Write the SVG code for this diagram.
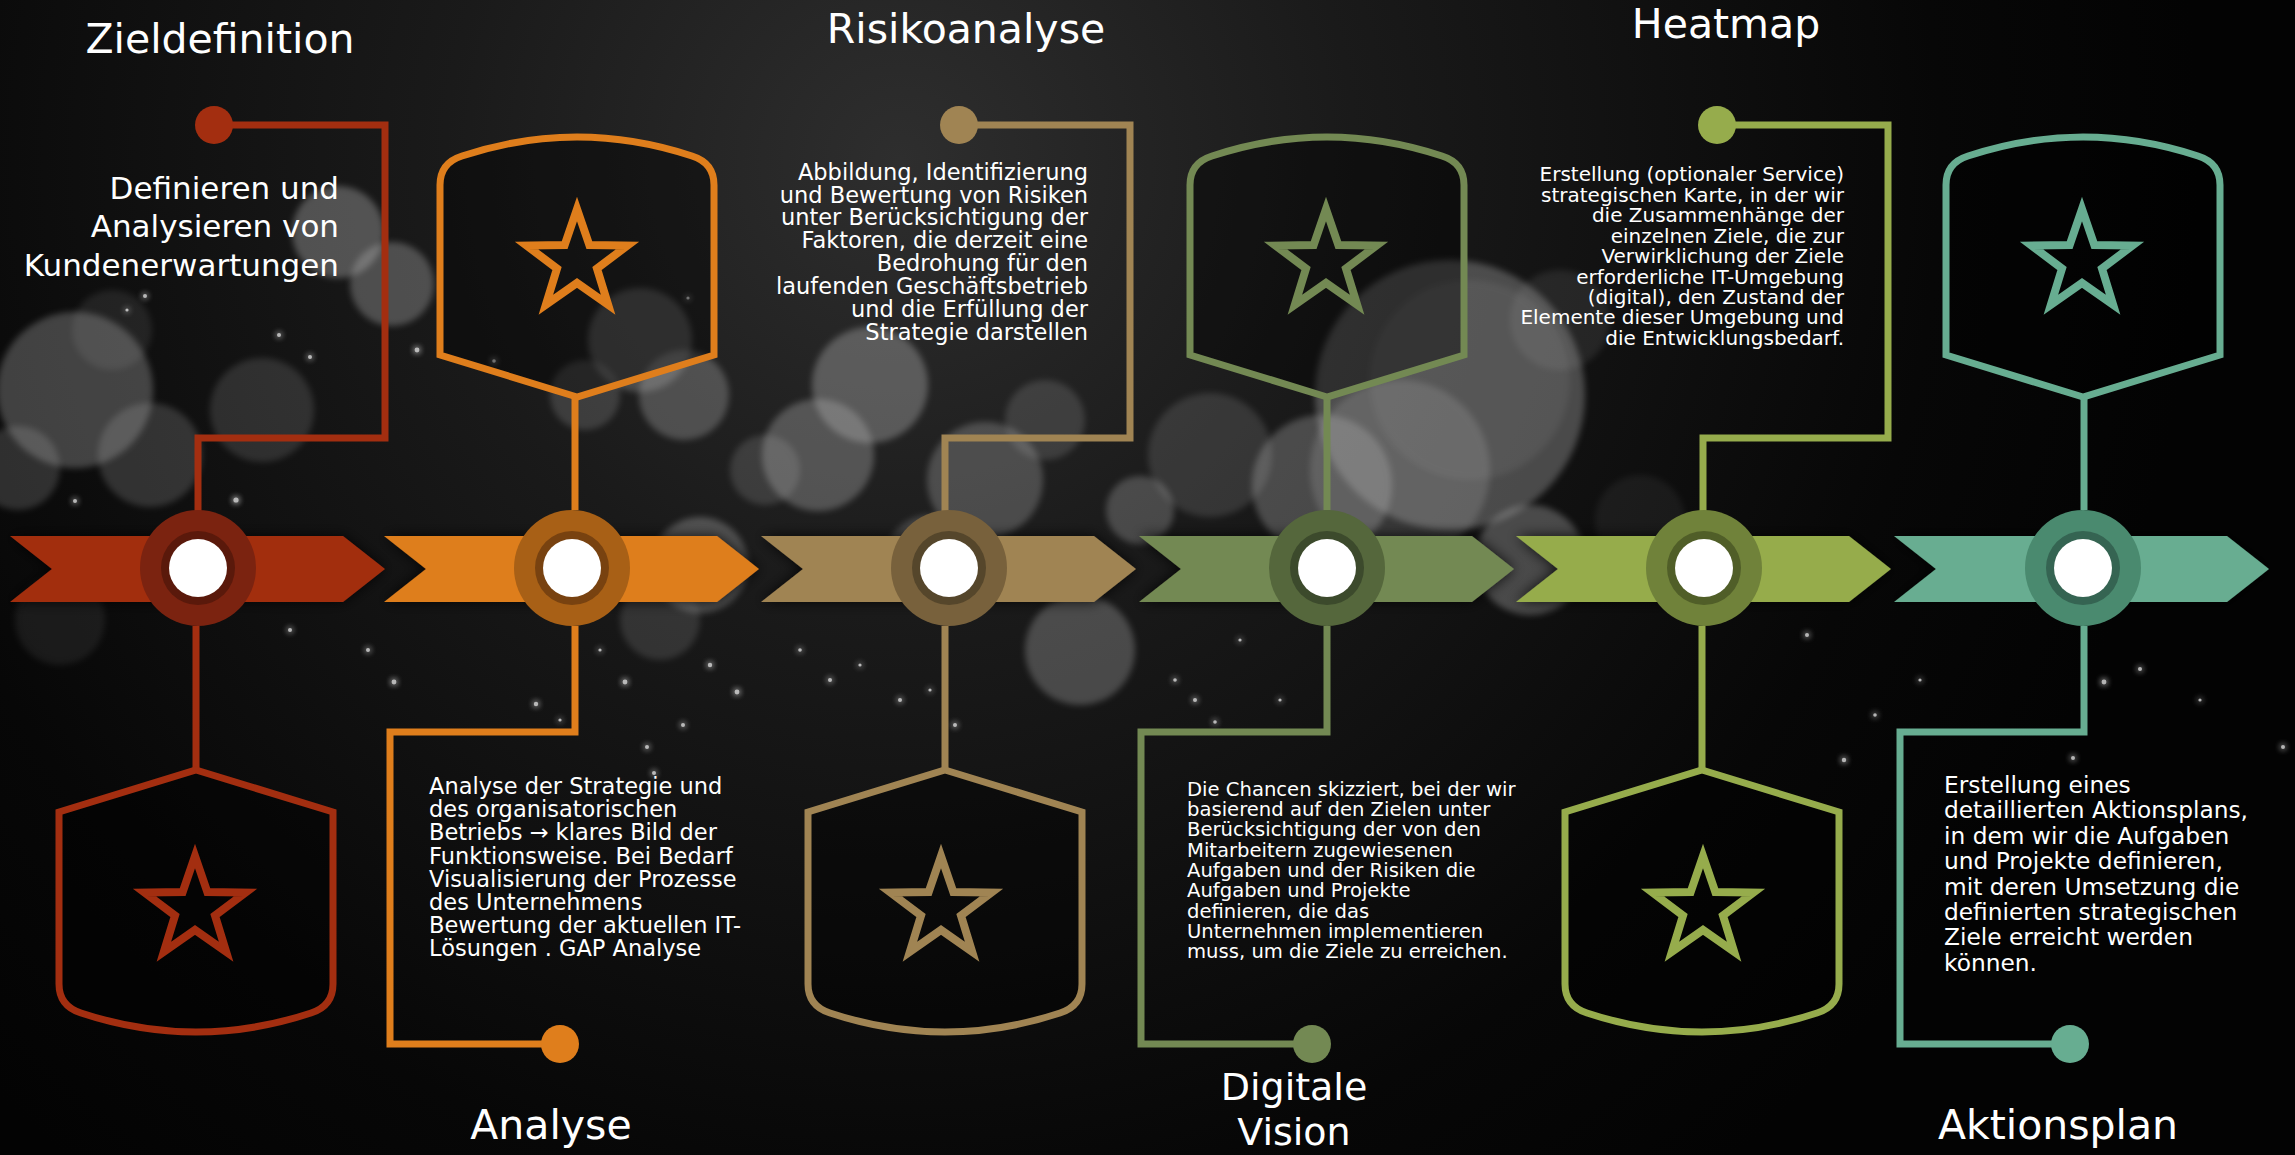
<svg xmlns="http://www.w3.org/2000/svg" xmlns:xlink="http://www.w3.org/1999/xlink" width="2295" height="1155" viewBox="0 0 2295 1155">
<defs>
<radialGradient id="bg" cx="900" cy="160" r="1300" gradientUnits="userSpaceOnUse">
<stop offset="0" stop-color="#2e2e2e"/>
<stop offset="0.35" stop-color="#1a1a1a"/>
<stop offset="0.8" stop-color="#070707"/>
<stop offset="1" stop-color="#030303"/>
</radialGradient>
<filter id="soft" x="-20%" y="-20%" width="140%" height="140%"><feGaussianBlur stdDeviation="3"/></filter>
<filter id="glow" x="-300%" y="-300%" width="700%" height="700%"><feGaussianBlur in="SourceGraphic" stdDeviation="3" result="b"/><feMerge><feMergeNode in="b"/><feMergeNode in="b"/><feMergeNode in="SourceGraphic"/></feMerge></filter>
<filter id="shadow" x="-10%" y="-40%" width="120%" height="180%"><feGaussianBlur in="SourceAlpha" stdDeviation="7" result="s"/><feComponentTransfer in="s" result="s2"><feFuncA type="linear" slope="0.8"/></feComponentTransfer><feMerge><feMergeNode in="s2"/><feMergeNode in="SourceGraphic"/></feMerge></filter>
<path id="star" d="M0,-53 L12.34,-16.99 L50.41,-16.38 L19.97,6.49 L31.15,42.88 L0,21 L-31.15,42.88 L-19.97,6.49 L-50.41,-16.38 L-12.34,-16.99 Z"/>
<path id="arrow" d="M0,536 L333,536 L375,569 L333,602 L0,602 L42,569 Z"/>
</defs>
<style>
.bk{fill:#b4b4b4;filter:url(#soft)}
.sp{fill:#ffffff;opacity:0.7;filter:url(#glow)}
.ln{fill:none;stroke-width:7;stroke-linejoin:miter;stroke-linecap:butt}
.sh{fill:#000000;fill-opacity:0.4;stroke-width:7;stroke-linejoin:miter}
.st{fill:none;stroke-width:8;stroke-linejoin:miter;stroke-miterlimit:10}
.white{fill:#ffffff}
text{font-family:'DejaVu Sans','Liberation Sans',sans-serif;fill:#ffffff}
.title{font-size:41px;text-anchor:middle}
.end{text-anchor:end}
</style>

<g id="background">
<rect x="0" y="0" width="2295" height="1155" fill="url(#bg)"/>
<g id="bokeh">
<circle class="bk" cx="75" cy="390" r="78" opacity="0.32"/>
<circle class="bk" cx="18" cy="468" r="42" opacity="0.22"/>
<circle class="bk" cx="150" cy="455" r="52" opacity="0.22"/>
<circle class="bk" cx="262" cy="410" r="52" opacity="0.18"/>
<circle class="bk" cx="112" cy="330" r="40" opacity="0.12"/>
<circle class="bk" cx="338" cy="232" r="46" opacity="0.38"/>
<circle class="bk" cx="392" cy="284" r="42" opacity="0.35"/>
<circle class="bk" cx="60" cy="620" r="45" opacity="0.1"/>
<circle class="bk" cx="640" cy="340" r="52" opacity="0.3"/>
<circle class="bk" cx="684" cy="395" r="45" opacity="0.32"/>
<circle class="bk" cx="585" cy="395" r="35" opacity="0.22"/>
<circle class="bk" cx="700" cy="565" r="48" opacity="0.35"/>
<circle class="bk" cx="660" cy="620" r="40" opacity="0.18"/>
<circle class="bk" cx="765" cy="470" r="35" opacity="0.2"/>
<circle class="bk" cx="870" cy="385" r="58" opacity="0.38"/>
<circle class="bk" cx="818" cy="455" r="56" opacity="0.35"/>
<circle class="bk" cx="985" cy="480" r="58" opacity="0.3"/>
<circle class="bk" cx="930" cy="560" r="45" opacity="0.25"/>
<circle class="bk" cx="1080" cy="650" r="55" opacity="0.32"/>
<circle class="bk" cx="1140" cy="510" r="34" opacity="0.3"/>
<circle class="bk" cx="1045" cy="420" r="40" opacity="0.2"/>
<circle class="bk" cx="1210" cy="455" r="62" opacity="0.18"/>
<circle class="bk" cx="1322" cy="485" r="70" opacity="0.32"/>
<circle class="bk" cx="1450" cy="395" r="135" opacity="0.35"/>
<circle class="bk" cx="1470" cy="380" r="100" opacity="0.1"/>
<circle class="bk" cx="1400" cy="470" r="90" opacity="0.22"/>
<circle class="bk" cx="1530" cy="560" r="55" opacity="0.35"/>
<circle class="bk" cx="1560" cy="320" r="50" opacity="0.12"/>
<circle class="bk" cx="1640" cy="520" r="45" opacity="0.08"/>
</g>
<g id="sparkles">
<circle class="sp" cx="145" cy="296" r="2"/><circle class="sp" cx="127" cy="310" r="1.6"/><circle class="sp" cx="279" cy="335" r="2"/>
<circle class="sp" cx="310" cy="357" r="2"/><circle class="sp" cx="417" cy="350" r="2.4"/><circle class="sp" cx="494" cy="361" r="1.8"/>
<circle class="sp" cx="236" cy="500" r="2.6"/><circle class="sp" cx="75" cy="501" r="2"/><circle class="sp" cx="688" cy="298" r="1.6"/>
<circle class="sp" cx="290" cy="630" r="2"/><circle class="sp" cx="368" cy="650" r="2"/><circle class="sp" cx="394" cy="682" r="2.4"/>
<circle class="sp" cx="536" cy="704" r="2.2"/><circle class="sp" cx="625" cy="682" r="2.4"/><circle class="sp" cx="710" cy="665" r="2.2"/>
<circle class="sp" cx="737" cy="692" r="2.4"/><circle class="sp" cx="683" cy="725" r="2"/><circle class="sp" cx="647" cy="747" r="2"/>
<circle class="sp" cx="654" cy="773" r="2"/><circle class="sp" cx="600" cy="650" r="1.6"/><circle class="sp" cx="560" cy="720" r="1.6"/>
<circle class="sp" cx="800" cy="650" r="1.8"/><circle class="sp" cx="830" cy="680" r="2"/><circle class="sp" cx="860" cy="665" r="1.6"/>
<circle class="sp" cx="900" cy="700" r="2"/><circle class="sp" cx="930" cy="690" r="1.6"/><circle class="sp" cx="955" cy="725" r="2"/>
<circle class="sp" cx="1175" cy="680" r="1.8"/><circle class="sp" cx="1195" cy="700" r="2"/><circle class="sp" cx="1215" cy="722" r="1.8"/>
<circle class="sp" cx="1240" cy="640" r="1.6"/><circle class="sp" cx="1280" cy="700" r="1.6"/>
<circle class="sp" cx="1807" cy="635" r="2"/><circle class="sp" cx="1844" cy="760" r="2.2"/><circle class="sp" cx="1875" cy="715" r="1.8"/>
<circle class="sp" cx="2104" cy="682" r="2.4"/><circle class="sp" cx="2140" cy="669" r="2"/><circle class="sp" cx="2073" cy="758" r="2"/>
<circle class="sp" cx="2283" cy="747" r="2"/><circle class="sp" cx="2200" cy="700" r="1.6"/><circle class="sp" cx="1920" cy="680" r="1.6"/>
</g>
</g>

<g id="connectors">
<path class="ln" stroke="#A32E10" d="M198,511 V438 H385 V125 H214"/>
<circle cx="214" cy="125" r="19" fill="#A32E10"/>
<path class="ln" stroke="#A32E10" d="M196,626 V770"/>
<path class="ln" stroke="#DF7E1C" d="M575,510 V397"/>
<path class="ln" stroke="#DF7E1C" d="M575,626 V732 H390 V1044 H560"/>
<circle cx="560" cy="1044" r="19" fill="#DF7E1C"/>
<path class="ln" stroke="#A08453" d="M945,511 V438 H1130 V125 H959"/>
<circle cx="959" cy="125" r="19" fill="#A08453"/>
<path class="ln" stroke="#A08453" d="M945,626 V770"/>
<path class="ln" stroke="#738953" d="M1327,510 V397"/>
<path class="ln" stroke="#738953" d="M1327,626 V732 H1141 V1044 H1312"/>
<circle cx="1312" cy="1044" r="19" fill="#738953"/>
<path class="ln" stroke="#96AC4C" d="M1703,511 V438 H1888 V125 H1717"/>
<circle cx="1717" cy="125" r="19" fill="#96AC4C"/>
<path class="ln" stroke="#96AC4C" d="M1702,626 V770"/>
<path class="ln" stroke="#67AD91" d="M2084,510 V397"/>
<path class="ln" stroke="#67AD91" d="M2084,626 V732 H1900 V1044 H2070"/>
<circle cx="2070" cy="1044" r="19" fill="#67AD91"/>
</g>

<g id="node-zieldefinition">
<use href="#arrow" x="10" fill="#A22E10" filter="url(#shadow)"/>
<circle cx="198" cy="568" r="58" fill="#7B2310"/>
<circle cx="198" cy="568" r="37" fill="#5A190B"/>
<circle class="white" cx="198" cy="568" r="29"/>
<path class="sh" stroke="#A32E10" d="M196,770 L333,812 L333,984 Q333,1006 311,1013 Q196,1051 81,1013 Q59,1006 59,984 L59,812 Z"/>
<use href="#star" x="195" y="909" class="st" stroke="#A32E10"/>
<text class="title" x="220" y="53">Zieldefinition</text>
<text class="end" font-size="31" x="339" y="199"><tspan x="339" y="199">Definieren und</tspan><tspan x="339" y="237">Analysieren von</tspan><tspan x="339" y="276">Kundenerwartungen</tspan></text>
</g>

<g id="node-analyse">
<use href="#arrow" x="384" fill="#DE7E1C" filter="url(#shadow)"/>
<circle cx="572" cy="568" r="58" fill="#A86016"/>
<circle cx="572" cy="568" r="37" fill="#784210"/>
<circle class="white" cx="572" cy="568" r="29"/>
<path class="sh" stroke="#DF7E1C" d="M577,397 L440,355 L440,185 Q440,163 462,156 Q577,118 692,156 Q714,163 714,185 L714,355 Z"/>
<use href="#star" x="577" y="262" class="st" stroke="#DF7E1C"/>
<text class="title" x="551" y="1139">Analyse</text>
<text font-size="22.5" x="429" y="794.3"><tspan x="429" y="794.3">Analyse der Strategie und</tspan><tspan x="429" y="817.4">des organisatorischen</tspan><tspan x="429" y="840.4">Betriebs → klares Bild der</tspan><tspan x="429" y="863.5">Funktionsweise. Bei Bedarf</tspan><tspan x="429" y="886.5">Visualisierung der Prozesse</tspan><tspan x="429" y="909.6">des Unternehmens</tspan><tspan x="429" y="932.7">Bewertung der aktuellen IT-</tspan><tspan x="429" y="955.7">Lösungen . GAP Analyse</tspan></text>
</g>

<g id="node-risikoanalyse">
<use href="#arrow" x="761" fill="#A08453" filter="url(#shadow)"/>
<circle cx="949" cy="568" r="58" fill="#78613C"/>
<circle cx="949" cy="568" r="37" fill="#55462B"/>
<circle class="white" cx="949" cy="568" r="29"/>
<path class="sh" stroke="#A08453" d="M945,770 L1082,812 L1082,984 Q1082,1006 1060,1013 Q945,1051 830,1013 Q808,1006 808,984 L808,812 Z"/>
<use href="#star" x="941" y="909" class="st" stroke="#A08453"/>
<text class="title" x="966" y="43">Risikoanalyse</text>
<text class="end" font-size="22.5" x="1088" y="179.5"><tspan x="1088" y="179.5">Abbildung, Identifizierung</tspan><tspan x="1088" y="202.5">und Bewertung von Risiken</tspan><tspan x="1088" y="225.4">unter Berücksichtigung der</tspan><tspan x="1088" y="248.4">Faktoren, die derzeit eine</tspan><tspan x="1088" y="271.3">Bedrohung für den</tspan><tspan x="1088" y="294.3">laufenden Geschäftsbetrieb</tspan><tspan x="1088" y="317.2">und die Erfüllung der</tspan><tspan x="1088" y="340.2">Strategie darstellen</tspan></text>
</g>

<g id="node-digitale-vision">
<use href="#arrow" x="1139" fill="#738953" filter="url(#shadow)"/>
<circle cx="1327" cy="568" r="58" fill="#55673C"/>
<circle cx="1327" cy="568" r="37" fill="#3C4A2C"/>
<circle class="white" cx="1327" cy="568" r="29"/>
<path class="sh" stroke="#738953" d="M1327,397 L1190,355 L1190,185 Q1190,163 1212,156 Q1327,118 1442,156 Q1464,163 1464,185 L1464,355 Z"/>
<use href="#star" x="1326" y="262" class="st" stroke="#738953"/>
<text class="title" style="font-size:38px" x="1294" y="1100"><tspan x="1294" y="1100">Digitale</tspan><tspan x="1294" y="1145">Vision</tspan></text>
<text font-size="19.6" x="1187" y="795.5"><tspan x="1187" y="795.5">Die Chancen skizziert, bei der wir</tspan><tspan x="1187" y="815.9">basierend auf den Zielen unter</tspan><tspan x="1187" y="836.2">Berücksichtigung der von den</tspan><tspan x="1187" y="856.6">Mitarbeitern zugewiesenen</tspan><tspan x="1187" y="876.9">Aufgaben und der Risiken die</tspan><tspan x="1187" y="897.3">Aufgaben und Projekte</tspan><tspan x="1187" y="917.6">definieren, die das</tspan><tspan x="1187" y="938">Unternehmen implementieren</tspan><tspan x="1187" y="958.3">muss, um die Ziele zu erreichen.</tspan></text>
</g>

<g id="node-heatmap">
<use href="#arrow" x="1516" fill="#96AC4C" filter="url(#shadow)"/>
<circle cx="1704" cy="568" r="58" fill="#70823A"/>
<circle cx="1704" cy="568" r="37" fill="#505E28"/>
<circle class="white" cx="1704" cy="568" r="29"/>
<path class="sh" stroke="#96AC4C" d="M1702,770 L1839,812 L1839,984 Q1839,1006 1817,1013 Q1702,1051 1587,1013 Q1565,1006 1565,984 L1565,812 Z"/>
<use href="#star" x="1703" y="909" class="st" stroke="#96AC4C"/>
<text class="title" x="1726" y="38">Heatmap</text>
<text class="end" font-size="20" x="1844" y="181.3"><tspan x="1844" y="181.3">Erstellung (optionaler Service)</tspan><tspan x="1844" y="201.7">strategischen Karte, in der wir</tspan><tspan x="1844" y="222.2">die Zusammenhänge der</tspan><tspan x="1844" y="242.6">einzelnen Ziele, die zur</tspan><tspan x="1844" y="263.1">Verwirklichung der Ziele</tspan><tspan x="1844" y="283.5">erforderliche IT-Umgebung</tspan><tspan x="1844" y="304">(digital), den Zustand der</tspan><tspan x="1844" y="324.4">Elemente dieser Umgebung und</tspan><tspan x="1844" y="344.8">die Entwicklungsbedarf.</tspan></text>
</g>

<g id="node-aktionsplan">
<use href="#arrow" x="1894" fill="#67AD91" filter="url(#shadow)"/>
<circle cx="2083" cy="568" r="58" fill="#4A8A6F"/>
<circle cx="2083" cy="568" r="37" fill="#356452"/>
<circle class="white" cx="2083" cy="568" r="29"/>
<path class="sh" stroke="#67AD91" d="M2083,397 L1946,355 L1946,185 Q1946,163 1968,156 Q2083,118 2198,156 Q2220,163 2220,185 L2220,355 Z"/>
<use href="#star" x="2082" y="262" class="st" stroke="#67AD91"/>
<text class="title" x="2058" y="1139">Aktionsplan</text>
<text font-size="23.3" x="1944" y="793"><tspan x="1944" y="793">Erstellung eines</tspan><tspan x="1944" y="818.4">detaillierten Aktionsplans,</tspan><tspan x="1944" y="843.8">in dem wir die Aufgaben</tspan><tspan x="1944" y="869.2">und Projekte definieren,</tspan><tspan x="1944" y="894.6">mit deren Umsetzung die</tspan><tspan x="1944" y="920">definierten strategischen</tspan><tspan x="1944" y="945.4">Ziele erreicht werden</tspan><tspan x="1944" y="970.8">können.</tspan></text>
</g>
</svg>
